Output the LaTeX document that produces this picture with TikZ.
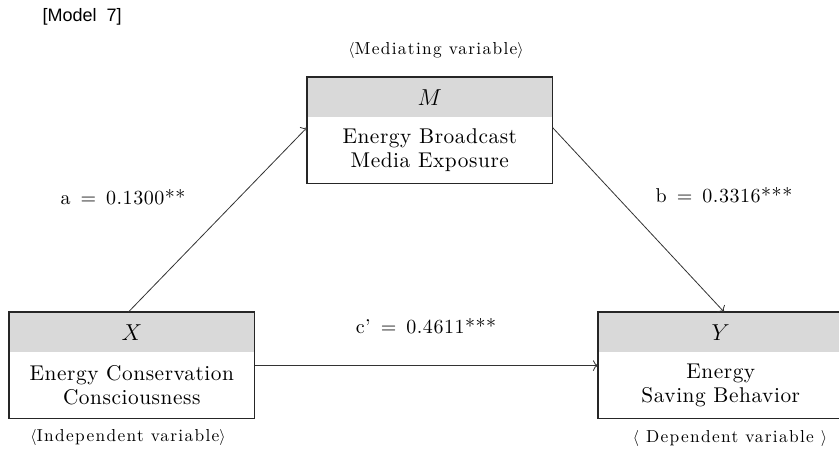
\documentclass[tikz,border=0pt]{standalone}
\usepackage{fontspec}
\newfontfamily\arialfont{Liberation Sans}
\newfontfamily\wideserif{lmroman10-regular.otf}
\usetikzlibrary{positioning,calc,arrows.meta}

\begin{document}
\begin{tikzpicture}[
		x=0.75pt,
		y=-0.75pt,
		>={To[scale=1.3]},
		varhead/.style={fill=gray!30, minimum width=183.75pt, minimum height=30pt, inner sep=0pt, font=\fontsize{16}{18}\selectfont},
		varbody/.style={fill=white, minimum width=183.75pt, minimum height=48.75pt, inner sep=0pt, align=center, font=\wideserif\fontsize{16}{18}\selectfont\addfontfeatures{LetterSpace=2.6}},
		role/.style={font=\wideserif\fontsize{13}{15}\selectfont\addfontfeatures{LetterSpace=7.6}},
		coef/.style={font=\wideserif\fontsize{15}{17}\selectfont\addfontfeatures{LetterSpace=2.7}},
		link/.style={->, draw=black!80, line width=0.6pt}
	]

		\useasboundingbox (0,0) rectangle (839,449);

		% title
		\node[anchor=west, font=\arialfont\fontsize{13.5}{15}\selectfont] (title) at (38,17) {[Model\ \ 7]};

		% box M
		\node[varhead, anchor=north west] (Mh) at (307,77) {$M$};
		\node[varbody, below=0pt of Mh] (Mb) {Energy Broadcast\\Media Exposure};
		\draw[line width=0.8pt, black!85] (Mh.north west) rectangle (Mb.south east);
		\node[role] (Mr) at (436,50) {$\langle$Mediating variable$\rangle$};

		% box X
		\node[varhead, anchor=north west] (Xh) at (9,312) {$X$};
		\node[varbody, below=0pt of Xh] (Xb) {Energy Conservation\\Consciousness};
		\draw[line width=0.8pt, black!85] (Xh.north west) rectangle (Xb.south east);
		\node[role] (Xr) at (128,437) {$\langle$Independent variable$\rangle$};

		% box Y
		\node[varhead, anchor=north west] (Yh) at (598,312) {$Y$};
		\node[varbody, below=0pt of Yh] (Yb) {Energy\\Saving Behavior};
		\draw[line width=0.8pt, black!85] (Yh.north west) rectangle (Yb.south east);
		\node[role] (Yr) at (730,438) {$\langle$ Dependent variable $\rangle$};

		% paths
		\draw[link] ([xshift=-2.5pt]Xh.north) -- ([yshift=-7.5pt]Mh.south west);
		\draw[link] ([yshift=-7.5pt]Mh.south east) -- ([xshift=2.5pt]Yh.north);
		\draw[link] ([yshift=-9.75pt]Xh.south east) -- ([yshift=-9.75pt]Yh.south west);

		% coefficients
		\node[coef] (a) at (123,197) {a\enspace=\enspace0.1300**};
		\node[coef] (b) at (724,195) {b\enspace=\enspace0.3316***};
		\node[coef] (c) at (426,326) {c’\enspace=\enspace0.4611***};

	\end{tikzpicture}
\end{document}
